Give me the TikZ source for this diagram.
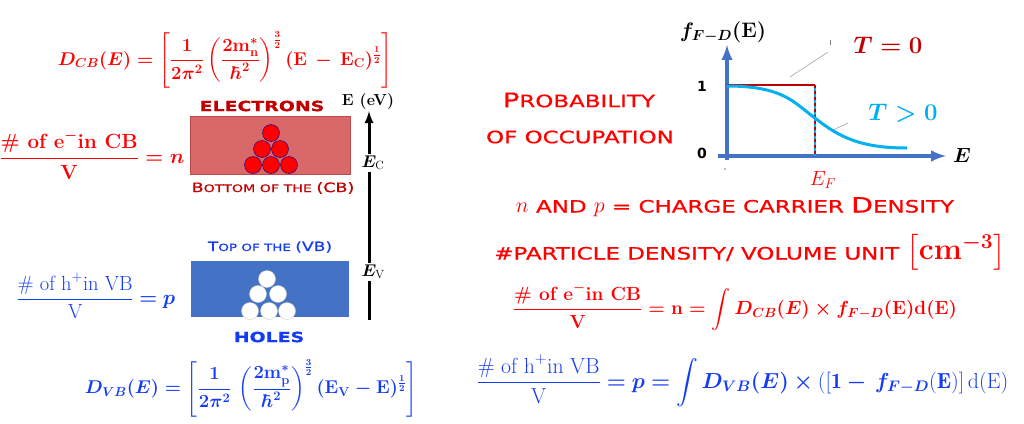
\documentclass[tikz,border=0pt]{standalone}
\usepackage{fix-cm}
\usepackage{fontspec}
\usepackage{amsmath,amssymb,bm}
\newfontfamily\cpfont[FakeStretch=1.35,FakeBold=0.8]{DejaVu Sans}
\newfontfamily\numfont{DejaVu Sans}
\definecolor{hotred}{RGB}{255,0,0}
\definecolor{deepred}{RGB}{192,0,0}
\definecolor{eqblue}{RGB}{20,60,245}
\definecolor{vbblue}{RGB}{68,114,196}
\definecolor{cbfill}{RGB}{217,104,104}
\definecolor{cbline}{RGB}{190,75,75}
\definecolor{skyblue}{RGB}{0,176,240}
\newcommand{\cp}[2]{{\cpfont\fontsize{#1}{#1}\selectfont #2}}
\newcommand{\bmath}[1]{{\boldmath$#1$}}
\tikzset{
  band/.style={inner sep=0, minimum width=160pt, minimum height=58pt},
  electron/.style={circle, inner sep=0, minimum size=17pt, fill=red, draw=blue!60!black, thin},
  hole/.style={circle, inner sep=0, minimum size=17pt, fill=white, draw=gray!40, thin},
  big/.style={font=\fontsize{24}{28}\selectfont},
  lead/.style={gray, thin}
}

\begin{document}
\begin{tikzpicture}[x=1pt,y=-1pt,font=\fontsize{20.5}{24}\selectfont]
\useasboundingbox (0,0) rectangle (1024,423);

% left part: bands
\node[hotred, font=\fontsize{18.5}{22}\selectfont] (dcb) at (225,60) {\bmath{D_{CB}(E) = \left[\dfrac{\mathbf{1}}{\mathbf{2}\pi^{\mathbf{2}}}\left(\dfrac{\mathbf{2m_n^*}}{\hbar^{\mathbf{2}}}\right)^{\frac{3}{2}}(\mathbf{E}\,-\,\mathbf{E_C})^{\frac{1}{2}}\right]}};
\node[deepred] (elec) at (262,106) {\cpfont\bfseries\fontsize{14}{14}\selectfont ELECTRONS};
\node[band, fill=cbfill, draw=cbline] (cb) at (270,145.5) {};
\foreach \x/\y in {253/165,271/165,289/165,262/149,280/149,271/133}
  \node[electron] at (\x,\y) {};
\node[deepred] (cbbot) at (273,188) {\cp{13}{B}\cp{10.5}{OTTOM OF THE }\cp{13}{(CB)}};
\node[hotred] (nfrac) at (92,155) {\bmath{\dfrac{\textbf{\# of e}^{-}\textbf{in CB}}{\textbf{V}} = n}};

\node[eqblue] (vbtop) at (270,247) {\cp{12.7}{T}\cp{10}{OP OF THE }\cp{12.7}{(VB)}};
\node[band, fill=vbblue, minimum width=158pt, minimum height=56pt] (vb) at (270,289) {};
\foreach \x/\y in {250/311,269/311,287/311,258/294,278/294,267/279}
  \node[hole] at (\x,\y) {};
\node[eqblue] (holes) at (269,337) {\cpfont\bfseries\fontsize{14}{14}\selectfont HOLES};
\node[eqblue] (pfrac) at (96,296) {$\dfrac{\text{\# of h}^{+}\text{in VB}}{\text{V}} \boldsymbol{=} \boldsymbol{p}$};
\node[eqblue, font=\fontsize{18.5}{22}\selectfont] (dvb) at (251,388) {\bmath{D_{VB}(E) = \left[\dfrac{\mathbf{1}}{\mathbf{2}\pi^{\mathbf{2}}}\,\left(\dfrac{\mathbf{2m_p^*}}{\hbar^{\mathbf{2}}}\right)^{\frac{3}{2}}(\mathbf{E_V} - \mathbf{E})^{\frac{1}{2}}\right]}};

% energy axis
\node[inner sep=1pt, font=\fontsize{16}{18}\selectfont] (eev) at (368,102) {\textbf{E (eV)}};
\node[inner sep=2pt, font=\fontsize{17}{18}\selectfont] (ec) at (373,163) {$\boldsymbol{E}_{\mathrm{C}}$};
\node[inner sep=2pt, font=\fontsize{17}{18}\selectfont] (ev) at (373,272) {$\boldsymbol{E}_{\mathrm{V}}$};
\coordinate (ebot) at (369,320);
\draw[line width=3pt] (ebot) -- (ebot |- ev.south);
\draw[line width=3pt] (ebot |- ev.north) -- (ebot |- ec.south);
\draw[line width=3pt, -latex] (ebot |- ec.north) -- (ebot |- eev.south);

% Fermi-Dirac graph
\node[hotred] (prob) at (579,100) {\cp{20}{P}\cp{17}{ROBABILITY}};
\node[hotred] (occ) at (580,137) {\cp{17}{OF OCCUPATION}};
\coordinate (orig) at (727,156);
\coordinate (ytip) at (727,45);
\coordinate (xtip) at (946,156);
\draw[vbblue, line width=4pt, -latex] (718,156) -- (xtip);
\draw[vbblue, line width=4pt, -latex] (727,160) -- (ytip);
\node[font=\fontsize{21}{24}\selectfont] (fdlab) at (723,32) {\bmath{f_{F-D}(\mathbf{E})}};
\node (xlab) at (962,155) {\bmath{E}};
\node[font=\numfont\bfseries\fontsize{14}{14}\selectfont] (one) at (702,86) {1};
\node[font=\numfont\bfseries\fontsize{14}{14}\selectfont] (zero) at (702,153) {0};
\coordinate (ef) at (815,156);
\coordinate (tstep) at (815,85);
\draw[deepred, line width=2.5pt] (727,85) -- (tstep);
\draw[deepred, line width=2pt, dashed] (tstep) -- (ef);
\draw[skyblue, line width=1.5pt, dash pattern=on 3pt off 3pt, dash phase=3pt] (tstep) -- (ef);
\draw[skyblue, line width=3pt] (727,86) .. controls (785,86) and (795,104) .. (815,118) .. controls (840,138) and (862,148) .. (907,148);
\node[hotred] (eflab) at (823,180) {$E_F$};
\draw[lead] (790,77) -- (828,52);
\draw[lead] (830,40) -- (830,45);
\draw[lead] (833,130) -- (848,123);
\fill[gray] (725,169) circle (0.8pt);
\node[deepred, big] (tzero) at (888,45) {\bmath{T = \mathbf{0}}};
\node[skyblue, big] (tpos) at (903,113) {\bmath{T > \mathbf{0}}};

% densities
\node[hotred, inner sep=0pt] (dens) at (735,207) {{\fontsize{22}{22}\selectfont$n$}\cp{17}{ AND }{\fontsize{22}{22}\selectfont$p$}\cp{17}{ = CHARGE CARRIER }\cp{21}{D}\cp{17}{ENSITY}};
\node[hotred, inner sep=0pt] (unit) at (750,252) {\cp{17}{\#PARTICLE DENSITY/ VOLUME UNIT }{\fontsize{30}{30}\selectfont\bmath{\big[\mathbf{cm}^{\mathbf{-3}}\big]}}};
\node[hotred, font=\fontsize{19}{22}\selectfont] (nint) at (735,307) {\bmath{\dfrac{\textbf{\# of e}^{-}\textbf{in CB}}{\textbf{V}} = \mathbf{n} = \displaystyle\int D_{CB}(E)\times f_{F-D}(\mathbf{E})\mathbf{d}(\mathbf{E})}};
\node[eqblue, font=\fontsize{21.8}{24}\selectfont] (pint) at (743,381) {$\dfrac{\text{\# of h}^{+}\text{in VB}}{\text{V}} \boldsymbol{=} \boldsymbol{p} \boldsymbol{=} \displaystyle\int \boldsymbol{D_{VB}(E)\times} \left(\left[\mathbf{1} \boldsymbol{-}\, \boldsymbol{f_{F-D}}(\mathbf{E})\right]\mathrm{d}(\mathrm{E})\right.$};
\end{tikzpicture}
\end{document}
